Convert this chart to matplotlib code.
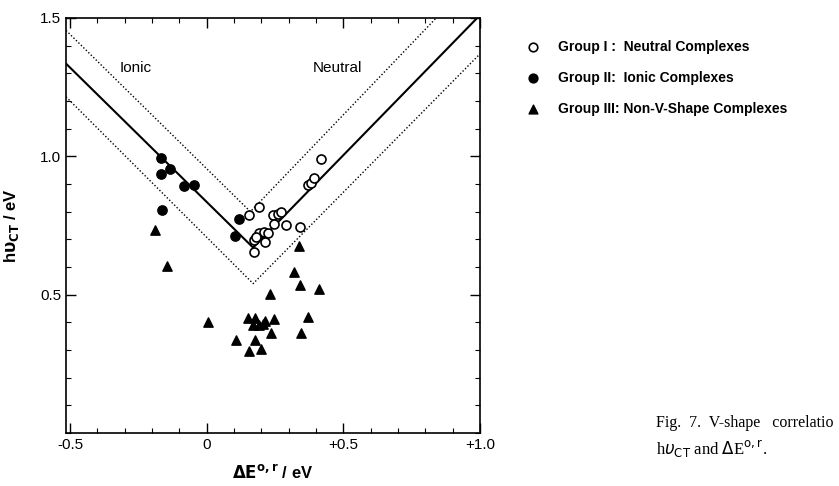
import matplotlib.pyplot as plt
from matplotlib.ticker import MultipleLocator, FixedLocator

plt.rcParams["font.family"] = ["Liberation Sans", "DejaVu Sans"]

# Group I: neutral complexes (open circles)
g1_x = [0.154, 0.191, 0.242, 0.260, 0.272, 0.248, 0.291, 0.343, 0.193, 0.209,
        0.224, 0.173, 0.181, 0.214, 0.173, 0.418, 0.370, 0.382, 0.394]
g1_y = [0.787, 0.817, 0.787, 0.793, 0.799, 0.757, 0.753, 0.745, 0.723, 0.727,
        0.723, 0.699, 0.709, 0.691, 0.655, 0.990, 0.895, 0.905, 0.920]

# Group II: ionic complexes (filled circles)
g2_x = [-0.169, -0.169, -0.135, -0.084, -0.047, -0.165, 0.118, 0.102]
g2_y = [0.995, 0.935, 0.956, 0.893, 0.895, 0.805, 0.773, 0.712]

# Group III: non-V-shape complexes (triangles)
g3_x = [-0.190, -0.147, 0.005, 0.108, 0.151, 0.175, 0.169, 0.193, 0.205, 0.215,
        0.245, 0.234, 0.177, 0.153, 0.200, 0.232, 0.339, 0.321, 0.343, 0.412,
        0.372, 0.346]
g3_y = [0.733, 0.604, 0.402, 0.336, 0.414, 0.414, 0.390, 0.390, 0.395, 0.405,
        0.411, 0.360, 0.336, 0.297, 0.302, 0.504, 0.675, 0.582, 0.534, 0.522,
        0.418, 0.360]

# V-shape lines
v_x = [-0.515, 0.17, 0.99]
v_y = [1.335, 0.67, 1.50]
up_x = [-0.515, 0.16, 0.84]
up_y = [1.455, 0.80, 1.50]
lo_x = [-0.515, 0.17, 1.0]
lo_y = [1.215, 0.54, 1.37]

fig = plt.figure(figsize=(8.39, 4.86), dpi=100)
ax = fig.add_axes([0.0787, 0.109, 0.4933, 0.854])

ax.plot(v_x, v_y, color="black", lw=1.5)
ax.plot(up_x, up_y, color="black", lw=1.0, ls=(0, (1, 1.5)))
ax.plot(lo_x, lo_y, color="black", lw=1.0, ls=(0, (1, 1.5)))

ax.scatter(g1_x, g1_y, s=42, facecolor="white", edgecolor="black", lw=1.2, zorder=3,
           label="Group I :  Neutral Complexes")
ax.scatter(g2_x, g2_y, s=45, color="black", zorder=3,
           label="Group II:  Ionic Complexes")
ax.scatter(g3_x, g3_y, s=45, marker="^", color="black", zorder=3,
           label="Group III: Non-V-Shape Complexes")

ax.text(-0.26, 1.32, "Ionic", fontsize=11, ha="center", va="center")
ax.text(0.48, 1.32, "Neutral", fontsize=11, ha="center", va="center")

ax.set_xlim(-0.515, 1.0)
ax.set_ylim(0, 1.5)
ax.xaxis.set_major_locator(FixedLocator([-0.5, 0, 0.5, 1.0]))
ax.set_xticklabels(["-0.5", "0", "+0.5", "+1.0"])
ax.yaxis.set_major_locator(FixedLocator([0.5, 1.0, 1.5]))
ax.set_yticklabels(["0.5", "1.0", "1.5"])
ax.xaxis.set_minor_locator(MultipleLocator(0.1))
ax.yaxis.set_minor_locator(MultipleLocator(0.1))
ax.tick_params(which="both", direction="in", top=True, right=True, labelsize=11)
ax.tick_params(which="major", length=7, width=1)
ax.tick_params(which="minor", length=3.5, width=0.8)
for s in ax.spines.values():
    s.set_linewidth(1.2)

ax.set_xlabel(r"$\mathbf{\Delta E^{o,r}}$ / eV", fontsize=12, fontweight="bold", labelpad=8)
ax.set_ylabel(r"h$\mathbf{\upsilon_{CT}}$ / eV", fontsize=12, fontweight="bold", labelpad=14)

ax.legend(loc="upper left", bbox_to_anchor=(1.085, 0.978), frameon=False,
          prop={"weight": "bold", "size": 10}, handletextpad=1.4, labelspacing=1.22,
          handlelength=0.8, markerscale=0.95)

fig.text(0.782, 0.121, "Fig.  7.  V-shape   correlatio",
         family=["Liberation Serif", "DejaVu Serif"], fontsize=11.5)
fig.text(0.782, 0.064, r"h$\upsilon_{\rm CT}$ and $\Delta$E$^{\rm o,r}$.",
         family=["Liberation Serif", "DejaVu Serif"], fontsize=12)

fig.savefig("out.png", dpi=100)
